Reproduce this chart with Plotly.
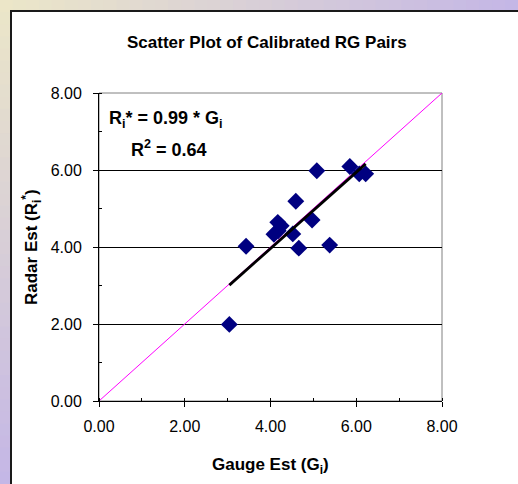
import plotly.graph_objects as go

# ---- data ----
gauge = [3.04, 3.43, 4.08, 4.17, 4.18, 4.25, 4.52, 4.59, 4.66, 4.97, 5.08, 5.38, 5.85, 6.07, 6.22]
radar = [1.99, 4.02, 4.33, 4.64, 4.42, 4.55, 4.34, 5.19, 3.97, 4.70, 5.98, 4.05, 6.09, 5.90, 5.90]
slope = 0.99
r2 = 0.64
axis_ticks = [0, 2, 4, 6, 8]
axis_ticklabels = ["0.00", "2.00", "4.00", "6.00", "8.00"]

W, H = 518, 484
L, R, T, B = 99, 442, 93, 401  # plot area pixel bounds

def px_x(p):
    return (p - L) / (R - L)

def px_y(p):
    return (B - p) / (B - T)

fig = go.Figure()

# 1:1 line
fig.add_trace(go.Scatter(x=[0, 8], y=[0, 8], mode="lines",
                         line=dict(color="#ff00ff", width=1), hoverinfo="skip"))
# data
fig.add_trace(go.Scatter(x=gauge, y=radar, mode="markers",
                         marker=dict(symbol="diamond", size=13, color="#000080",
                                     line=dict(width=0))))
# trend line
xmin, xmax = min(gauge), max(gauge)
fig.add_trace(go.Scatter(x=[xmin, xmax], y=[slope * xmin, slope * xmax], mode="lines",
                         line=dict(color="black", width=2.8), hoverinfo="skip"))

shapes = []
# gradient background strips
def lerp(c1, c2, t):
    return "rgb(%d,%d,%d)" % tuple(round(a + (b - a) * t) for a, b in zip(c1, c2))

beige = (236, 231, 200)
lav = (196, 182, 230)
N = 40
for i in range(N):
    t = (i + 0.5) / N
    x0 = i * W / N
    x1 = (i + 1) * W / N + 1
    shapes.append(dict(type="rect", xref="paper", yref="paper",
                       x0=px_x(x0), x1=px_x(x1), y0=px_y(0), y1=px_y(11),
                       fillcolor=lerp(beige, lav, t), line=dict(width=0), layer="below"))
    y0 = i * H / N
    y1 = (i + 1) * H / N + 1
    shapes.append(dict(type="rect", xref="paper", yref="paper",
                       x0=px_x(0), x1=px_x(11), y0=px_y(y0), y1=px_y(y1),
                       fillcolor=lerp(beige, lav, t), line=dict(width=0), layer="below"))
# chart box
shapes.append(dict(type="rect", xref="paper", yref="paper",
                   x0=px_x(11), x1=px_x(W + 20), y0=px_y(11), y1=px_y(H + 20),
                   fillcolor="white", line=dict(color="#1a1a1a", width=2), layer="below"))
# plot area frame (top/right gray)
shapes.append(dict(type="rect", xref="paper", yref="paper", x0=0, x1=1, y0=0, y1=1,
                   line=dict(color="#808080", width=1), fillcolor="rgba(0,0,0,0)", layer="below"))

FAM = "Liberation Sans, Arial"
annotations = [
    dict(text="<b>Scatter Plot of Calibrated RG Pairs</b>", xref="paper", yref="paper",
         x=px_x(267), y=px_y(43), showarrow=False, font=dict(family=FAM, size=17, color="black"),
         xanchor="center", yanchor="middle"),
    dict(text="<b>Gauge Est (G<sub>i</sub>)</b>", xref="paper", yref="paper",
         x=px_x(270), y=px_y(466), showarrow=False, font=dict(family=FAM, size=17, color="black"),
         xanchor="center", yanchor="middle"),
    dict(text="<b>Radar Est (R<sub>i</sub><sup>*</sup>)</b>", xref="paper", yref="paper",
         x=px_x(31), y=px_y(247), showarrow=False, font=dict(family=FAM, size=17, color="black"),
         textangle=-90, xanchor="center", yanchor="middle"),
    dict(text="<b>R<sub>i</sub>* = %.2f * G<sub>i</sub></b>" % slope, xref="paper", yref="paper",
         x=px_x(107), y=px_y(119), showarrow=False, font=dict(family=FAM, size=18, color="black"),
         xanchor="left", yanchor="middle"),
    dict(text="<b>R<sup>2</sup> = %.2f</b>" % r2, xref="paper", yref="paper",
         x=px_x(129), y=px_y(148), showarrow=False, font=dict(family=FAM, size=18, color="black"),
         xanchor="left", yanchor="middle"),
]

tickfont = dict(family=FAM, size=16, color="black")
fig.update_layout(
    width=W, height=H,
    margin=dict(l=L, r=W - R, t=T, b=H - B, pad=0),
    paper_bgcolor="white", plot_bgcolor="rgba(0,0,0,0)",
    showlegend=False,
    shapes=shapes, annotations=annotations,
    xaxis=dict(range=[0, 8], tickvals=axis_ticks, ticktext=axis_ticklabels,
               showgrid=False, zeroline=False, showline=True, linecolor="black", linewidth=1,
               ticks="outside", ticklen=5, tickcolor="black", tickfont=tickfont,
               ticklabelstandoff=6,
               minor=dict(dtick=1, tick0=0, ticks="inside", ticklen=3, tickcolor="black", showgrid=False)),
    yaxis=dict(range=[0, 8], tickvals=axis_ticks, ticktext=axis_ticklabels,
               showgrid=True, gridcolor="black", gridwidth=1, zeroline=False,
               showline=True, linecolor="black", linewidth=1,
               ticks="outside", ticklen=5, tickcolor="black", tickfont=tickfont,
               ticklabelstandoff=8,
               minor=dict(dtick=1, tick0=0, ticks="inside", ticklen=3, tickcolor="black", showgrid=False)),
)

fig.write_html("out.html")
